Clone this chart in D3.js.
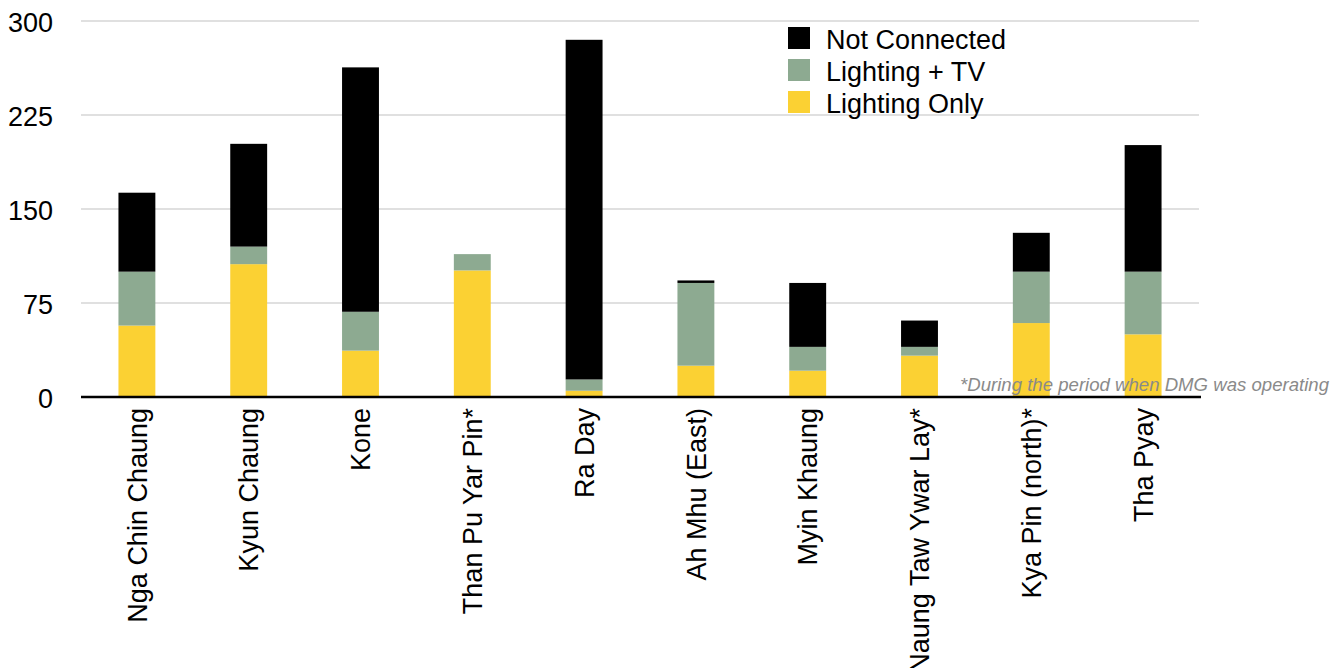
<!DOCTYPE html>
<html>
<head>
<meta charset="utf-8">
<script src="https://cdn.jsdelivr.net/npm/d3@7"></script>
<style>
  body { margin: 0; background: #fff; }
  text { font-family: "Liberation Sans", Arial, sans-serif; }
</style>
</head>
<body>
<div id="chart"></div>
<script>
var svgWidth = 1343;
var svgHeight = 668;

var margin = { top: 21, right: 144, bottom: 271, left: 81 };
var width = svgWidth - margin.left - margin.right;
var height = svgHeight - margin.top - margin.bottom;

// data
var villages = ["Nga Chin Chaung", "Kyun Chaung", "Kone", "Than Pu Yar Pin*", "Ra Day",
    "Ah Mhu (East)", "Myin Khaung", "Naung Taw Ywar Lay*", "Kya Pin (north)*", "Tha Pyay"];
var lightingOnly = [57, 106, 37, 101, 5, 25, 21, 33, 59, 50];
var lightingTV = [43, 14, 31, 13, 9, 66, 19, 7, 41, 50];
var notConnected = [63, 82, 195, 0, 271, 2, 51, 21, 31, 101];
var yTicks = [0, 75, 150, 225, 300];

var seriesNames = ["Lighting Only", "Lighting + TV", "Not Connected"];
var colors = ["#fbd133", "#8daa91", "#000000"];

var rows = villages.map(function (v, i) {
    return { village: v, "Lighting Only": lightingOnly[i], "Lighting + TV": lightingTV[i], "Not Connected": notConnected[i] };
});

var svg = d3.select("#chart").append("svg")
    .attr("width", svgWidth)
    .attr("height", svgHeight);

var chartGroup = svg.append("g")
    .attr("transform", `translate(${margin.left}, ${margin.top})`);

var xScale = d3.scaleBand()
    .domain(villages)
    .range([0, width])
    .paddingInner(0.67)
    .paddingOuter(0.335);

var yScale = d3.scaleLinear()
    .domain([0, 300])
    .range([height, 0]);

// gridlines
chartGroup.selectAll("line.grid")
    .data(yTicks.slice(1))
    .enter()
    .append("line")
    .attr("x1", 0)
    .attr("x2", width)
    .attr("y1", d => yScale(d))
    .attr("y2", d => yScale(d))
    .attr("stroke", "#d6d6d6")
    .attr("stroke-width", 1.3);

// y axis labels
var leftAxis = d3.axisLeft(yScale).tickValues(yTicks).tickSize(0).tickPadding(28);
var yAxis = chartGroup.append("g").call(leftAxis);
yAxis.select(".domain").remove();
yAxis.selectAll("text")
    .attr("font-size", 27)
    .attr("fill", "#000")
    .attr("dy", "0.4em")
    .style("font-family", "Liberation Sans, Arial, sans-serif");

// stacked bars
var stacked = d3.stack().keys(seriesNames)(rows);

chartGroup.selectAll("g.layer")
    .data(stacked)
    .enter()
    .append("g")
    .attr("fill", (d, i) => colors[i])
    .selectAll("rect")
    .data(d => d)
    .enter()
    .append("rect")
    .attr("x", d => xScale(d.data.village))
    .attr("width", xScale.bandwidth())
    .attr("y", d => yScale(d[1]))
    .attr("height", d => yScale(d[0]) - yScale(d[1]));

// footnote
svg.append("text")
    .attr("x", 1329)
    .attr("y", 391)
    .attr("text-anchor", "end")
    .attr("font-size", 18.6)
    .attr("font-style", "italic")
    .attr("fill", "#8a8a8a")
    .text("*During the period when DMG was operating");

// x axis
chartGroup.append("line")
    .attr("x1", 0)
    .attr("x2", width + 2)
    .attr("y1", height)
    .attr("y2", height)
    .attr("stroke", "#000")
    .attr("stroke-width", 2.5);

chartGroup.selectAll("text.xlabel")
    .data(villages)
    .enter()
    .append("text")
    .attr("class", "xlabel")
    .attr("transform", d => `translate(${xScale(d) + xScale.bandwidth() / 2}, ${height + 11}) rotate(-90)`)
    .attr("dy", "0.36em")
    .attr("text-anchor", "end")
    .attr("font-size", 27)
    .text(d => d);

// legend
var legendItems = ["Not Connected", "Lighting + TV", "Lighting Only"];
var legend = svg.append("g").attr("transform", "translate(788, 27)");
legendItems.forEach(function (name, i) {
    var g = legend.append("g").attr("transform", `translate(0, ${i * 32})`);
    g.append("rect")
        .attr("width", 22)
        .attr("height", 22)
        .attr("fill", colors[seriesNames.indexOf(name)]);
    g.append("text")
        .attr("x", 38)
        .attr("y", 22)
        .attr("font-size", 27)
        .text(name);
});
</script>
</body>
</html>
